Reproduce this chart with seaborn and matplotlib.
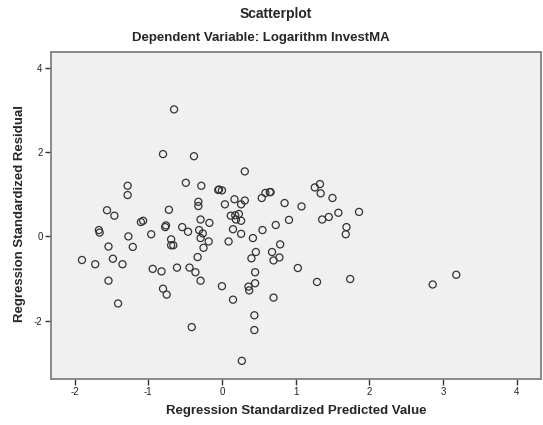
import matplotlib
matplotlib.use("Agg")
import matplotlib.pyplot as plt
import seaborn as sns
import pandas as pd

predicted = [-0.65, -0.80, -0.38, -1.28, -1.28, -0.49, -0.28, -0.05, -1.56, -1.46,
             -0.72, -0.32, -0.32, -0.29, -0.17, -1.10, -1.07, -1.67, -1.66, -1.27,
             -0.96, -0.76, -0.77, -0.54, -0.46, -0.31, -0.26, -0.29, -0.18, -0.69,
             -0.69, -0.66, -1.54, -1.21, -1.90, -1.72, -1.48, -1.35, -0.25, -0.33,
             -0.94, -0.82, -0.61, -0.44, -0.36, -0.29, -1.54, -0.80, -0.75, -1.41,
             -0.41, 0.31, -0.04, 0.00, 0.59, 0.65, 0.66, 0.54, 1.26, 1.33,
             1.34, 1.50, 0.17, 0.31, 0.26, 0.04, 0.85, 1.08, 0.12, 0.18,
             0.23, 0.19, 0.26, 0.55, 0.73, 0.91, 1.36, 1.45, 1.58, 1.86,
             1.69, 1.68, 0.15, 0.26, 0.42, 0.09, 0.79, 0.46, 0.40, 0.68,
             0.78, 0.70, 1.03, 0.45, 0.00, 0.36, 0.37, 0.45, 0.15, 0.70,
             1.29, 1.74, 0.44, 0.44, 0.27, 2.86, 3.18]
residual = [3.01, 1.95, 1.90, 1.20, 0.98, 1.27, 1.20, 1.10, 0.62, 0.49,
            0.63, 0.82, 0.72, 0.40, 0.32, 0.34, 0.37, 0.15, 0.09, 0.00,
            0.05, 0.26, 0.22, 0.22, 0.11, 0.15, 0.07, -0.04, -0.12, -0.07,
            -0.21, -0.21, -0.24, -0.25, -0.56, -0.66, -0.53, -0.66, -0.27, -0.49,
            -0.77, -0.83, -0.74, -0.74, -0.85, -1.05, -1.05, -1.24, -1.38, -1.59,
            -2.15, 1.54, 1.11, 1.09, 1.03, 1.05, 1.05, 0.91, 1.16, 1.24,
            1.02, 0.91, 0.88, 0.85, 0.76, 0.76, 0.79, 0.71, 0.49, 0.50,
            0.53, 0.40, 0.37, 0.15, 0.27, 0.39, 0.40, 0.46, 0.56, 0.58,
            0.22, 0.05, 0.17, 0.06, -0.04, -0.12, -0.19, -0.37, -0.52, -0.37,
            -0.50, -0.57, -0.75, -0.85, -1.18, -1.19, -1.28, -1.11, -1.50, -1.45,
            -1.08, -1.01, -1.87, -2.22, -2.95, -1.14, -0.91]

x_ticks = [-2, -1, 0, 1, 2, 3, 4]
y_ticks = [-2, 0, 2, 4]

title = "Scatterplot"
subtitle = "Dependent Variable: Logarithm InvestMA"
x_label = "Regression Standardized Predicted Value"
y_label = "Regression Standardized Residual"

df = pd.DataFrame({"pred": predicted, "resid": residual})

sns.set_style("white")
plt.rcParams['font.family'] = ['Liberation Sans', 'DejaVu Sans']

fig = plt.figure(figsize=(5.43, 4.25), dpi=100)
fig.patch.set_facecolor("white")
ax = fig.add_axes([51/543, 1 - 379/425, (541 - 51)/543, (379 - 52)/425])
ax.set_facecolor("#f0f0f0")

sns.scatterplot(data=df, x="pred", y="resid", ax=ax, marker="o", s=26,
                facecolors="none", edgecolor="#333333", linewidth=0.9, legend=False)

ax.set_xlim(-2.32, 4.33)
ax.set_ylim(-3.38, 4.37)
ax.set_xticks(x_ticks)
ax.set_yticks(y_ticks)
ax.set_xticklabels([str(t) for t in x_ticks])
ax.set_yticklabels([str(t) for t in y_ticks])
ax.set_xlabel("")
ax.set_ylabel("")
ax.tick_params(axis="both", which="major", direction="out", length=4, width=1,
               color="#333333", labelsize=7, labelcolor="#222222", pad=2)
ax.tick_params(axis="x", bottom=True, top=False)
ax.tick_params(axis="y", left=True, right=False)
for side, sp in ax.spines.items():
    sp.set_visible(True)
    sp.set_color("#808080")
    sp.set_linewidth(1.3)

fig.text(276/543, 1 - 14/425, title, ha="center", va="center", fontsize=10, fontweight="bold")
fig.text(261/543, 1 - 38/425, subtitle, ha="center", va="center", fontsize=9.5, fontweight="bold")
fig.text(296/543, 1 - 411/425, x_label, ha="center", va="center", fontsize=9.5, fontweight="bold")
fig.text(20/543, 1 - 213/425, y_label, ha="center", va="center", rotation=90, fontsize=9.5, fontweight="bold")

fig.savefig("out.png", dpi=100)
